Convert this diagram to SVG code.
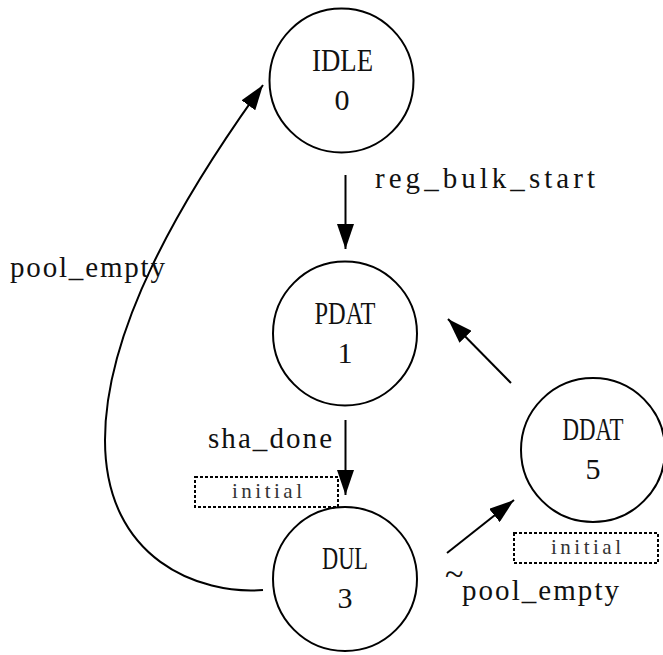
<svg xmlns="http://www.w3.org/2000/svg" width="663" height="655" viewBox="0 0 663 655">
  <defs>
    <marker id="arrow" markerUnits="userSpaceOnUse" markerWidth="25" markerHeight="17" viewBox="0 0 25 17" refX="25" refY="8.5" orient="auto">
      <path d="M0,0 L25,8.5 L0,17 z" fill="#000"/>
    </marker>
  </defs>
  <style>
    .node circle { fill: #fff; stroke: #000; stroke-width: 2; }
    .lbl { font-family: "Liberation Serif", "DejaVu Serif", serif; font-size: 29px; fill: #111; }
    .node .lbl { text-anchor: middle; font-size: 32px; }
    .node .num { font-size: 30px; }
    .edge { fill: none; stroke: #000; stroke-width: 2; marker-end: url(#arrow); }
    .tag rect { fill: none; stroke: #000; stroke-width: 2; stroke-dasharray: 3 2; }
    .tag text { font-family: "Liberation Serif", "DejaVu Serif", serif; font-size: 21px; fill: #333; text-anchor: middle; }
  </style>
  <rect width="663" height="655" fill="#fff"/>

  <!-- transitions -->
  <g id="connectors">
    <path class="edge" d="M345.5 175 L345.5 249"/>
    <path class="edge" d="M345.5 420 L345.5 495"/>
    <path class="edge" d="M447 553 L514 500"/>
    <path class="edge" d="M511 383 L448 319"/>
    <path class="edge" d="M263 590 C200 595 105 560 105 440 C105 330 180 200 263 85"/>
    <text class="lbl" x="375" y="188" textLength="220" lengthAdjust="spacing">reg_bulk_start</text>
    <text class="lbl" x="10" y="277" textLength="155" lengthAdjust="spacing">pool_empty</text>
    <text class="lbl" x="208" y="448" textLength="124" lengthAdjust="spacing">sha_done</text>
    <text class="lbl"><tspan x="445" y="585" font-size="34">~</tspan><tspan x="462" y="600" textLength="157" lengthAdjust="spacing">pool_empty</tspan></text>
  </g>

  <!-- states -->
  <g id="IDLE" class="node">
    <circle cx="341.5" cy="80.5" r="72"/>
    <text class="lbl" x="342.5" y="71" textLength="61" lengthAdjust="spacingAndGlyphs">IDLE</text>
    <text class="lbl num" x="342" y="110">0</text>
  </g>
  <g id="PDAT" class="node">
    <circle cx="345" cy="333.5" r="72"/>
    <text class="lbl" x="345" y="324" textLength="61" lengthAdjust="spacingAndGlyphs">PDAT</text>
    <text class="lbl num" x="345" y="363">1</text>
  </g>
  <g id="DUL" class="node">
    <circle cx="345" cy="579" r="72"/>
    <text class="lbl" x="345" y="569" textLength="46" lengthAdjust="spacingAndGlyphs">DUL</text>
    <text class="lbl num" x="345" y="608">3</text>
  </g>
  <g id="DDAT" class="node">
    <circle cx="593" cy="450" r="72"/>
    <text class="lbl" x="593" y="440" textLength="61" lengthAdjust="spacingAndGlyphs">DDAT</text>
    <text class="lbl num" x="593" y="479">5</text>
  </g>

  <!-- initial-state tags -->
  <g id="DUL-initial" class="tag">
    <rect x="195" y="477" width="143" height="30"/>
    <text x="267" y="498" textLength="70" lengthAdjust="spacing">initial</text>
  </g>
  <g id="DDAT-initial" class="tag">
    <rect x="514" y="533" width="144" height="30"/>
    <text x="586" y="554" textLength="70" lengthAdjust="spacing">initial</text>
  </g>
</svg>
